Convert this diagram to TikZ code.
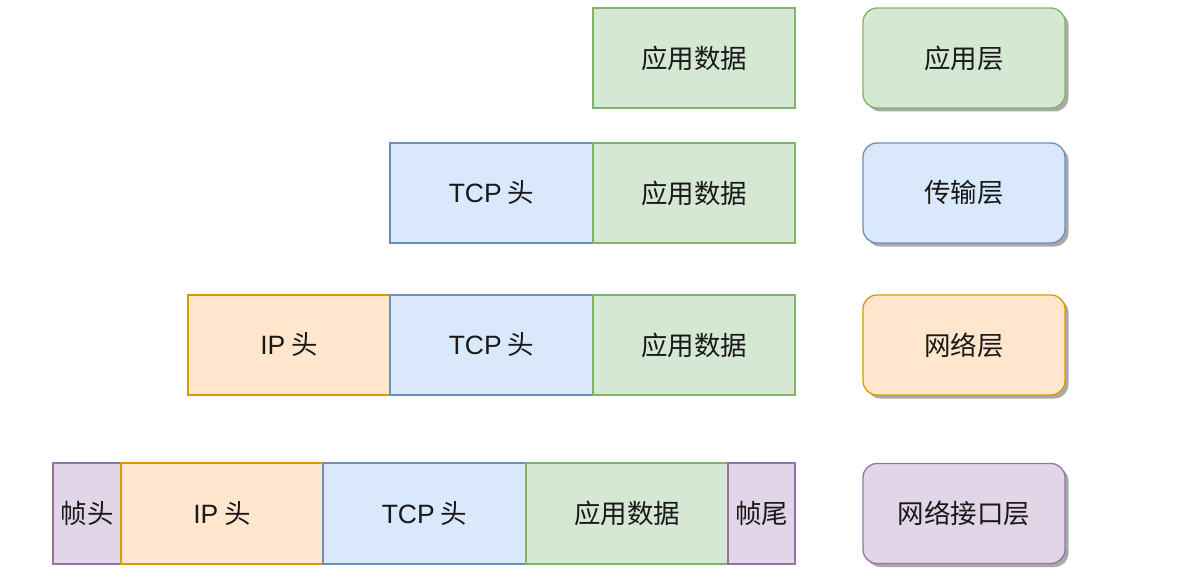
\documentclass[tikz,border=0pt]{standalone}
\usepackage{fontspec}
\setmainfont{Noto Sans CJK SC}
\newfontfamily\latf{Liberation Sans}
\usetikzlibrary{shadows}
\definecolor{gF}{HTML}{D5E8D4}\definecolor{gS}{HTML}{82B366}
\definecolor{bF}{HTML}{DAE8FC}\definecolor{bS}{HTML}{6C8EBF}
\definecolor{oF}{HTML}{FFE6CC}\definecolor{oS}{HTML}{D79B00}
\definecolor{pF}{HTML}{E1D5E7}\definecolor{pS}{HTML}{9673A6}
\tikzset{
  cell/.style={draw, line width=1.3pt, inner sep=0pt, text=black!90, font=\fontsize{26.5}{30}\selectfont},
  gcell/.style={cell, fill=gF, draw=gS},
  bcell/.style={cell, fill=bF, draw=bS},
  ocell/.style={cell, fill=oF, draw=oS},
  pcell/.style={cell, fill=pF, draw=pS},
  layer/.style={rounded corners=14pt, line width=1.3pt, drop shadow={shadow xshift=3.5pt, shadow yshift=-3.5pt, fill=black!45, opacity=0.75}},
}
\begin{document}
\begin{tikzpicture}[x=1pt,y=-1pt]
\useasboundingbox (0,0) rectangle (1197,575);
% row 1
\node[gcell, minimum width=202pt, minimum height=100pt] (a1) at (694,58) {应用数据};
% row 2
\node[bcell, minimum width=203pt, minimum height=100pt] (t2) at (491.5,193) {{\latf TCP} 头};
\node[gcell, minimum width=202pt, minimum height=100pt] (a2) at (694,193) {应用数据};
% row 3
\node[ocell, minimum width=202pt, minimum height=100pt] (i3) at (289,345) {{\latf IP} 头};
\node[bcell, minimum width=203pt, minimum height=100pt] (t3) at (491.5,345) {{\latf TCP} 头};
\node[gcell, minimum width=202pt, minimum height=100pt] (a3) at (694,345) {应用数据};
% row 4
\node[pcell, minimum width=68pt, minimum height=101pt] (f4) at (87,513.5) {帧头};
\node[ocell, minimum width=202pt, minimum height=101pt] (i4) at (222,513.5) {{\latf IP} 头};
\node[bcell, minimum width=203pt, minimum height=101pt] (t4) at (424.5,513.5) {{\latf TCP} 头};
\node[gcell, minimum width=202pt, minimum height=101pt] (a4) at (627,513.5) {应用数据};
\node[pcell, minimum width=67pt, minimum height=101pt] (e4) at (761.5,513.5) {帧尾};
% layers
\node[gcell, layer, minimum width=202pt, minimum height=100pt] (L1) at (964,58) {应用层};
\node[bcell, layer, minimum width=202pt, minimum height=100pt] (L2) at (964,193) {传输层};
\node[ocell, layer, minimum width=202pt, minimum height=100pt] (L3) at (964,345) {网络层};
\node[pcell, layer, minimum width=202pt, minimum height=100pt] (L4) at (964,513.5) {网络接口层};
\end{tikzpicture}
\end{document}
